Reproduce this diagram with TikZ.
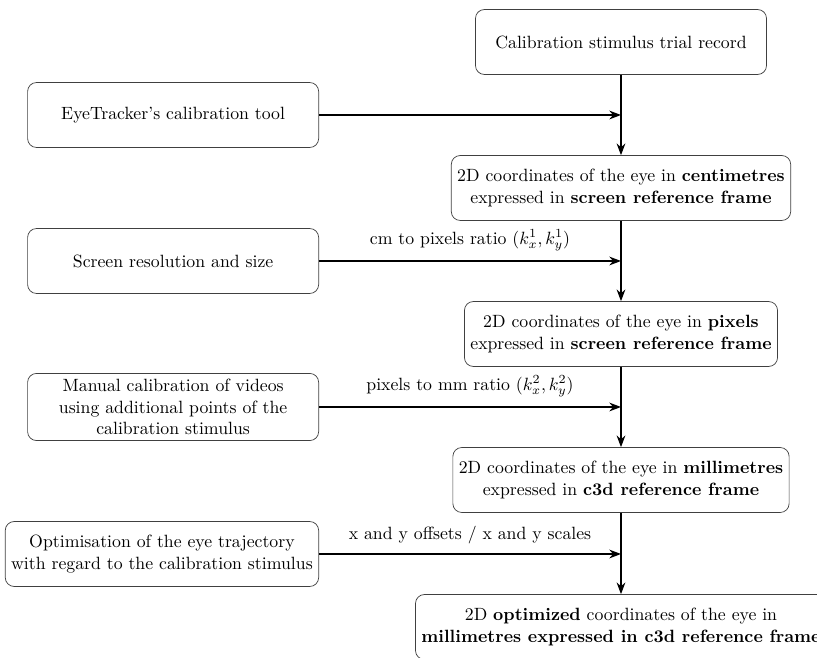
\documentclass[tikz,border=0pt]{standalone}
\usetikzlibrary{arrows.meta,positioning}

\begin{document}
\begin{tikzpicture}[x=0.5635pt,y=-0.5635pt,>=Stealth,
    stagebox/.style={draw=black!75,rounded corners=5pt,align=center,
      minimum width=164pt,minimum height=36.6pt},
    inputbox/.style={stagebox,anchor=east},
    flow/.style={->,thick}]
        % =========================================================
        % Bildrahmen: 817 x 658 (Pixelkoordinaten, y nach unten)
        % =========================================================
        \useasboundingbox (0,0) rectangle (817,658);
        \clip (0,0) rectangle (817,658);

        % ---------------------------------------------------------
        % Hauptkette (rechte Spalte)
        % ---------------------------------------------------------
        \node[stagebox] (record) at (621,42) {Calibration stimulus trial record};
        \node[stagebox] (cm) at (621,188)
        {2D coordinates of the eye in \textbf{centimetres}\\
         expressed in \textbf{screen reference frame}};
        \node[stagebox] (px) at (621,334)
        {2D coordinates of the eye in \textbf{pixels}\\
         expressed in \textbf{screen reference frame}};
        \node[stagebox] (mm) at (621,480)
        {2D coordinates of the eye in \textbf{millimetres}\\
         expressed in \textbf{c3d reference frame}};
        \node[stagebox] (opt) at (621,627)
        {2D \textbf{optimized} coordinates of the eye in\\
         \textbf{millimetres expressed in c3d reference frame}};

        % ---------------------------------------------------------
        % Eingaben (linke Spalte)
        % ---------------------------------------------------------
        \node[inputbox] (tool) at (319,115) {EyeTracker's calibration tool};
        \node[inputbox] (screen) at (319,261) {Screen resolution and size};
        \node[inputbox] (manual) at (319,407)
        {Manual calibration of videos\\
         using additional points of the\\
         calibration stimulus};
        \node[inputbox] (traj) at (319,554)
        {Optimisation of the eye trajectory\\
         with regard to the calibration stimulus};

        % Senkrechte Pfeile
        \draw[flow] (record) -- (cm);
        \draw[flow] (cm) -- (px);
        \draw[flow] (px) -- (mm);
        \draw[flow] (mm) -- (opt);

        % Waagrechte Pfeile mit Beschriftung
        \draw[flow] (tool.east) -- (tool.east -| record.south);
        \draw[flow] (screen.east) -- (screen.east -| cm.south)
        node[midway,above=2pt] {cm to pixels ratio $(k_x^1,k_y^1)$};
        \draw[flow] (manual.east) -- (manual.east -| px.south)
        node[midway,above=2pt] {pixels to mm ratio $(k_x^2,k_y^2)$};
        \draw[flow] (traj.east) -- (traj.east -| mm.south)
        node[midway,above=2pt] {x and y offsets / x and y scales};

    \end{tikzpicture}
\end{document}
